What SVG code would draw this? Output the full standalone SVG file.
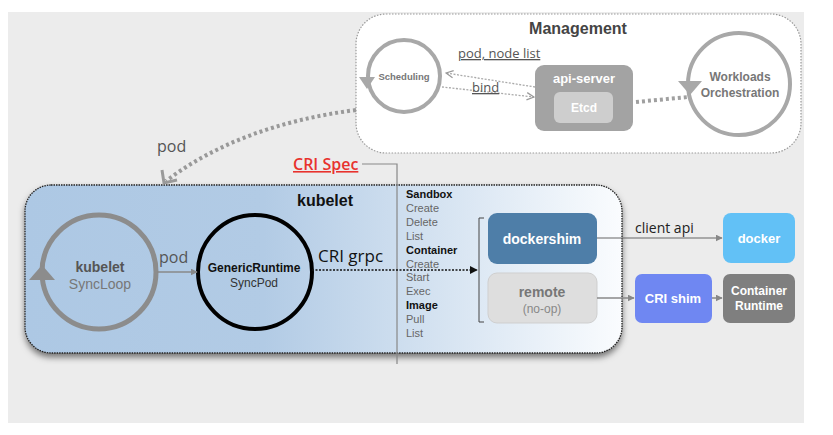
<svg xmlns="http://www.w3.org/2000/svg" width="833" height="435" viewBox="0 0 833 435">
<style>
.h{font-family:"Liberation Sans",Arial,sans-serif}
.o{font-family:"Open Sans","Noto Sans",sans-serif}
.b{font-weight:bold}
.wt{fill:#fff;font-weight:bold;font-family:"Liberation Sans",Arial,sans-serif;text-anchor:middle}
.lst{font-family:"Liberation Sans",Arial,sans-serif;font-size:11px;fill:#666}
.lst .b{fill:#111}
.gl{stroke:#888;stroke-width:1.3;fill:none}
</style>
<defs>
<linearGradient id="kg" x1="0" x2="1" y1="0" y2="0">
<stop offset="0" stop-color="#adc8e4"/>
<stop offset="0.4" stop-color="#b2cbe5"/>
<stop offset="1" stop-color="#fafcfe"/>
</linearGradient>
<filter id="sh" x="-5%" y="-10%" width="110%" height="125%">
<feDropShadow dx="0" dy="4" stdDeviation="3" flood-color="#000" flood-opacity="0.5"/>
</filter>
<marker id="ag" viewBox="0 0 10 10" refX="9" refY="5" markerWidth="7" markerHeight="7" orient="auto" markerUnits="userSpaceOnUse">
<path d="M0,0 L10,5 L0,10 z" fill="#888"/>
</marker>
<marker id="ab" viewBox="0 0 10 10" refX="9" refY="5" markerWidth="8" markerHeight="8" orient="auto" markerUnits="userSpaceOnUse">
<path d="M0,0 L10,5 L0,10 z" fill="#111"/>
</marker>
<marker id="ao" viewBox="0 0 10 10" refX="9" refY="5" markerWidth="9" markerHeight="9" orient="auto" markerUnits="userSpaceOnUse">
<path d="M1,1 L9,5 L1,9" fill="none" stroke="#999" stroke-width="1.4"/>
</marker>
</defs>

<rect x="8" y="12" width="796" height="411" fill="#ececec"/>

<g id="management">
<rect x="356" y="14" width="445" height="139" rx="30" fill="#fff" stroke="#999" stroke-width="1.2" stroke-dasharray="1.5 1.5"/>
<text x="578" y="34" class="h b" font-size="16" fill="#444" text-anchor="middle">Management</text>
</g>

<g id="scheduling">
<circle cx="404" cy="76" r="36" fill="none" stroke="#a8a8a8" stroke-width="4"/>
<path d="M359,77 L375,77 L367,89 z" fill="#a8a8a8"/>
<text x="404" y="80" class="h b" font-size="9.5" fill="#777" text-anchor="middle">Scheduling</text>
</g>

<g id="api-server">
<rect x="535" y="65" width="98" height="66" rx="9" fill="#a3a3a3"/>
<text x="584" y="83" class="wt" font-size="13">api-server</text>
</g>
<g id="etcd">
<rect x="554" y="92" width="59" height="31" rx="6" fill="#cecece"/>
<text x="584" y="112" class="wt" font-size="12">Etcd</text>
</g>

<g id="workloads">
<circle cx="739" cy="84" r="51" fill="none" stroke="#a8a8a8" stroke-width="4"/>
<path d="M678,81 L702,81 L690,95 z" fill="#a8a8a8"/>
<text x="740" y="81" class="h b" font-size="12" fill="#777" text-anchor="middle">Workloads</text>
<text x="740" y="97" class="h b" font-size="12" fill="#777" text-anchor="middle">Orchestration</text>
</g>

<g id="kubelet-box">
<rect x="25" y="185" width="597" height="168" rx="26" fill="url(#kg)" stroke="#222" stroke-width="1.3" stroke-dasharray="1.5 1" filter="url(#sh)"/>
<text x="325" y="206" class="h b" font-size="16" fill="#111" text-anchor="middle">kubelet</text>
</g>

<g id="syncloop">
<circle cx="99" cy="272" r="57" fill="none" stroke="#8c8c8c" stroke-width="5"/>
<path d="M29,280 L55,280 L42,265 z" fill="#8c8c8c"/>
<text x="100" y="272" class="h b" font-size="14" fill="#555" text-anchor="middle">kubelet</text>
<text x="100" y="289" class="h" font-size="14" fill="#777" text-anchor="middle">SyncLoop</text>
</g>

<g id="genericruntime">
<circle cx="255" cy="272" r="57" fill="none" stroke="#000" stroke-width="4"/>
<text x="254" y="272" class="h b" font-size="12" fill="#111" text-anchor="middle">GenericRuntime</text>
<text x="254" y="287" class="h" font-size="12" fill="#333" text-anchor="middle">SyncPod</text>
</g>

<g id="cri-list" class="lst">
<text x="406" y="198" class="b">Sandbox</text>
<text x="406" y="212">Create</text>
<text x="406" y="226">Delete</text>
<text x="406" y="240">List</text>
<text x="406" y="254" class="b">Container</text>
<text x="406" y="268">Create</text>
<text x="406" y="281">Start</text>
<text x="406" y="295">Exec</text>
<text x="406" y="309" class="b">Image</text>
<text x="406" y="323">Pull</text>
<text x="406" y="337">List</text>
</g>

<g id="dockershim">
<rect x="488" y="213" width="109" height="51" rx="9" fill="#4e7ea8"/>
<text x="542" y="244" class="wt" font-size="14">dockershim</text>
</g>
<g id="remote">
<rect x="488" y="273" width="109" height="50" rx="9" fill="#dedede" stroke="#cfcfcf"/>
<text x="542" y="297" class="h b" font-size="14" fill="#777" text-anchor="middle">remote</text>
<text x="542" y="313" class="h" font-size="12" fill="#888" text-anchor="middle">(no-op)</text>
</g>
<g id="docker">
<rect x="723" y="213" width="72" height="50" rx="8" fill="#62c1f6"/>
<text x="759" y="243" class="wt" font-size="13">docker</text>
</g>
<g id="cri-shim">
<rect x="635" y="274" width="77" height="49" rx="7" fill="#6f87f2"/>
<text x="673" y="303" class="wt" font-size="13">CRI shim</text>
</g>
<g id="container-runtime">
<rect x="723" y="274" width="72" height="49" rx="7" fill="#7f7f7f"/>
<text x="759" y="295" class="wt" font-size="12">Container</text>
<text x="759" y="310" class="wt" font-size="12">Runtime</text>
</g>

<g id="connectors">
<line x1="535" y1="87" x2="446" y2="73" stroke="#aaa" stroke-width="1.3" stroke-dasharray="2 1.5" marker-end="url(#ao)"/>
<line x1="442" y1="87" x2="534" y2="97" stroke="#aaa" stroke-width="1.3" stroke-dasharray="2 1.5" marker-end="url(#ao)"/>
<text x="458" y="58" class="o" font-size="13" fill="#555" text-decoration="underline">pod, node list</text>
<text x="472" y="92" class="o" font-size="13" fill="#555" text-decoration="underline">bind</text>
<path d="M636,102 L688,97" stroke="#a0a0a0" stroke-width="4" stroke-dasharray="3 3" fill="none"/>
<path d="M356,110 Q240,125 166,181" stroke="#999" stroke-width="4" stroke-dasharray="3 3" fill="none"/>
<path d="M162,170 L164,183 L177,180" stroke="#999" stroke-width="3" fill="none"/>
<text x="157" y="152" class="o" font-size="16" fill="#555">pod</text>
<text x="293" y="170" class="o" font-size="16" font-weight="600" fill="#e8322e" text-decoration="underline">CRI Spec</text>
<path d="M362,164 L397,164 L397,364" stroke="#888" stroke-width="1.2" fill="none"/>
<line x1="157" y1="272" x2="197" y2="272" stroke="#888" stroke-width="1.5" marker-end="url(#ag)"/>
<text x="159" y="263" class="o" font-size="16" fill="#555">pod</text>
<line x1="312" y1="270" x2="477" y2="270" stroke="#111" stroke-width="1.5" stroke-dasharray="2 1.5" marker-end="url(#ab)"/>
<text x="318" y="262" class="o" font-size="17" fill="#111">CRI grpc</text>
<path d="M484,218 L479,218 L479,322 L484,322" stroke="#444" stroke-width="1" fill="none"/>
<line x1="597" y1="238" x2="722" y2="238" stroke="#666" stroke-width="1.2" marker-end="url(#ag)"/>
<text x="635" y="233" class="o" font-size="14" fill="#222">client api</text>
<line x1="597" y1="298" x2="634" y2="298" stroke="#888" stroke-width="1.5" marker-end="url(#ag)"/>
<line x1="712" y1="298" x2="722" y2="298" stroke="#888" stroke-width="1.5" marker-end="url(#ag)"/>
</g>
</svg>
